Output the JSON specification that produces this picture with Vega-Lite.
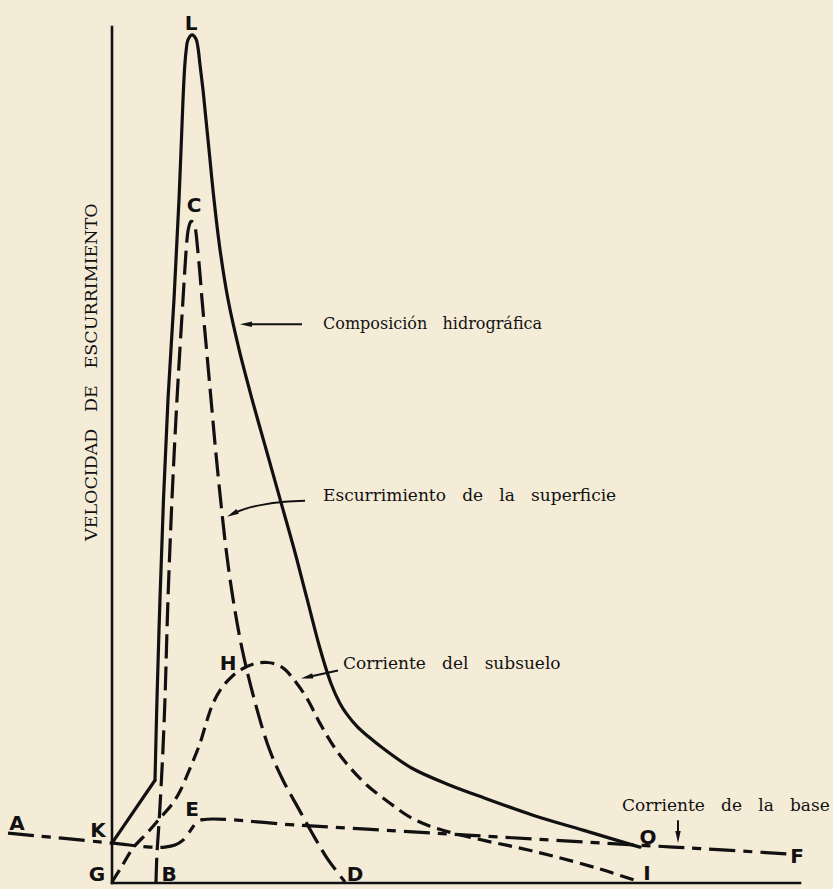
{
  "$schema": "https://vega.github.io/schema/vega-lite/v6.json",
  "width": 833,
  "height": 889,
  "autosize": {"type": "fit", "contains": "padding"},
  "padding": 0,
  "background": "#F5ECD8",
  "config": {"view": {"stroke": null}},
  "datasets": {
    "curves": [
      {"curve": "axisY", "i": 1, "x": 0, "y": 858},
      {"curve": "axisY", "i": 2, "x": 0, "y": 0},
      {"curve": "axisX", "i": 1, "x": 0, "y": 0},
      {"curve": "axisX", "i": 2, "x": 688, "y": 0},
      {"curve": "L1", "i": 1, "x": 0, "y": 40},
      {"curve": "L1", "i": 2, "x": 43, "y": 103},
      {"curve": "L2", "i": 1, "x": 43, "y": 103},
      {"curve": "L2", "i": 2, "x": 45, "y": 185},
      {"curve": "L2", "i": 3, "x": 48, "y": 285},
      {"curve": "L2", "i": 4, "x": 51.5, "y": 385},
      {"curve": "L2", "i": 5, "x": 56, "y": 485},
      {"curve": "L2", "i": 6, "x": 62, "y": 585},
      {"curve": "L2", "i": 7, "x": 67, "y": 685},
      {"curve": "L2", "i": 8, "x": 71, "y": 785},
      {"curve": "L2", "i": 9, "x": 72.5, "y": 815},
      {"curve": "L2", "i": 10, "x": 74, "y": 833},
      {"curve": "L2", "i": 11, "x": 76, "y": 845},
      {"curve": "L2", "i": 12, "x": 80, "y": 850},
      {"curve": "L2", "i": 13, "x": 84, "y": 846},
      {"curve": "L2", "i": 14, "x": 86, "y": 837},
      {"curve": "L2", "i": 15, "x": 88, "y": 820},
      {"curve": "L2", "i": 16, "x": 91, "y": 795},
      {"curve": "L2", "i": 17, "x": 93, "y": 775},
      {"curve": "L2", "i": 18, "x": 97, "y": 735},
      {"curve": "L2", "i": 19, "x": 102, "y": 685},
      {"curve": "L2", "i": 20, "x": 108, "y": 635},
      {"curve": "L2", "i": 21, "x": 116, "y": 585},
      {"curve": "L2", "i": 22, "x": 127, "y": 535},
      {"curve": "L2", "i": 23, "x": 140, "y": 485},
      {"curve": "L2", "i": 24, "x": 154, "y": 435},
      {"curve": "L2", "i": 25, "x": 168, "y": 385},
      {"curve": "L2", "i": 26, "x": 182, "y": 335},
      {"curve": "L2", "i": 27, "x": 195, "y": 285},
      {"curve": "L2", "i": 28, "x": 208, "y": 235},
      {"curve": "L2", "i": 29, "x": 219, "y": 200},
      {"curve": "L2", "i": 30, "x": 228, "y": 180},
      {"curve": "L2", "i": 31, "x": 235, "y": 169},
      {"curve": "L2", "i": 32, "x": 245, "y": 157},
      {"curve": "L2", "i": 33, "x": 256, "y": 147},
      {"curve": "L2", "i": 34, "x": 271, "y": 135},
      {"curve": "L2", "i": 35, "x": 300, "y": 115},
      {"curve": "L2", "i": 36, "x": 338, "y": 98},
      {"curve": "L2", "i": 37, "x": 373, "y": 85},
      {"curve": "L2", "i": 38, "x": 421, "y": 68},
      {"curve": "L2", "i": 39, "x": 471, "y": 53},
      {"curve": "L2", "i": 40, "x": 521, "y": 38},
      {"curve": "L2", "i": 41, "x": 528, "y": 36},
      {"curve": "C", "i": 1, "x": 44, "y": 1},
      {"curve": "C", "i": 2, "x": 45, "y": 30},
      {"curve": "C", "i": 3, "x": 47, "y": 60},
      {"curve": "C", "i": 4, "x": 49, "y": 95},
      {"curve": "C", "i": 5, "x": 51, "y": 135},
      {"curve": "C", "i": 6, "x": 53, "y": 185},
      {"curve": "C", "i": 7, "x": 56, "y": 285},
      {"curve": "C", "i": 8, "x": 60, "y": 385},
      {"curve": "C", "i": 9, "x": 65, "y": 485},
      {"curve": "C", "i": 10, "x": 71, "y": 585},
      {"curve": "C", "i": 11, "x": 73.5, "y": 625},
      {"curve": "C", "i": 12, "x": 75, "y": 645},
      {"curve": "C", "i": 13, "x": 76.5, "y": 656},
      {"curve": "C", "i": 14, "x": 79, "y": 663},
      {"curve": "C", "i": 15, "x": 81.5, "y": 662},
      {"curve": "C", "i": 16, "x": 83.5, "y": 655},
      {"curve": "C", "i": 17, "x": 85.5, "y": 637},
      {"curve": "C", "i": 18, "x": 88, "y": 610},
      {"curve": "C", "i": 19, "x": 90, "y": 585},
      {"curve": "C", "i": 20, "x": 94.5, "y": 535},
      {"curve": "C", "i": 21, "x": 99, "y": 485},
      {"curve": "C", "i": 22, "x": 103.5, "y": 435},
      {"curve": "C", "i": 23, "x": 108.5, "y": 385},
      {"curve": "C", "i": 24, "x": 114, "y": 335},
      {"curve": "C", "i": 25, "x": 121, "y": 285},
      {"curve": "C", "i": 26, "x": 130, "y": 235},
      {"curve": "C", "i": 27, "x": 142, "y": 185},
      {"curve": "C", "i": 28, "x": 157, "y": 135},
      {"curve": "C", "i": 29, "x": 171, "y": 103},
      {"curve": "C", "i": 30, "x": 188, "y": 72},
      {"curve": "C", "i": 31, "x": 203, "y": 45},
      {"curve": "C", "i": 32, "x": 215, "y": 25},
      {"curve": "C", "i": 33, "x": 233, "y": 1},
      {"curve": "H", "i": 1, "x": 0, "y": 1},
      {"curve": "H", "i": 2, "x": 10, "y": 17},
      {"curve": "H", "i": 3, "x": 21, "y": 35},
      {"curve": "H", "i": 4, "x": 35, "y": 50},
      {"curve": "H", "i": 5, "x": 48, "y": 65},
      {"curve": "H", "i": 6, "x": 60, "y": 79},
      {"curve": "H", "i": 7, "x": 68, "y": 92},
      {"curve": "H", "i": 8, "x": 78, "y": 115},
      {"curve": "H", "i": 9, "x": 88, "y": 140},
      {"curve": "H", "i": 10, "x": 95, "y": 163},
      {"curve": "H", "i": 11, "x": 101, "y": 180},
      {"curve": "H", "i": 12, "x": 110, "y": 196},
      {"curve": "H", "i": 13, "x": 120, "y": 207},
      {"curve": "H", "i": 14, "x": 131, "y": 215},
      {"curve": "H", "i": 15, "x": 143, "y": 220},
      {"curve": "H", "i": 16, "x": 155, "y": 221},
      {"curve": "H", "i": 17, "x": 165, "y": 219},
      {"curve": "H", "i": 18, "x": 173, "y": 214},
      {"curve": "H", "i": 19, "x": 181, "y": 205},
      {"curve": "H", "i": 20, "x": 195, "y": 185},
      {"curve": "H", "i": 21, "x": 208, "y": 160},
      {"curve": "H", "i": 22, "x": 223, "y": 135},
      {"curve": "H", "i": 23, "x": 236, "y": 118},
      {"curve": "H", "i": 24, "x": 255, "y": 98},
      {"curve": "H", "i": 25, "x": 278, "y": 80},
      {"curve": "H", "i": 26, "x": 298, "y": 66},
      {"curve": "H", "i": 27, "x": 318, "y": 57},
      {"curve": "H", "i": 28, "x": 341, "y": 50},
      {"curve": "H", "i": 29, "x": 375, "y": 42},
      {"curve": "H", "i": 30, "x": 408, "y": 35},
      {"curve": "H", "i": 31, "x": 441, "y": 27},
      {"curve": "H", "i": 32, "x": 488, "y": 14},
      {"curve": "H", "i": 33, "x": 528, "y": 1},
      {"curve": "base", "i": 1, "x": -104, "y": 50},
      {"curve": "base", "i": 2, "x": 0, "y": 40},
      {"curve": "base", "i": 3, "x": 38, "y": 36},
      {"curve": "base", "i": 4, "x": 53, "y": 36},
      {"curve": "base", "i": 5, "x": 63, "y": 38},
      {"curve": "base", "i": 6, "x": 71, "y": 43},
      {"curve": "base", "i": 7, "x": 78, "y": 52},
      {"curve": "base", "i": 8, "x": 84, "y": 60},
      {"curve": "base", "i": 9, "x": 91, "y": 63.5},
      {"curve": "base", "i": 10, "x": 188, "y": 57.8},
      {"curve": "base", "i": 11, "x": 288, "y": 52},
      {"curve": "base", "i": 12, "x": 388, "y": 46.1},
      {"curve": "base", "i": 13, "x": 526, "y": 38},
      {"curve": "base", "i": 14, "x": 588, "y": 34.5},
      {"curve": "base", "i": 15, "x": 678, "y": 29},
      {"curve": "arrowComp", "i": 1, "x": 190, "y": 560},
      {"curve": "arrowComp", "i": 2, "x": 134, "y": 560},
      {"curve": "arrowEsc", "i": 1, "x": 193, "y": 383},
      {"curve": "arrowEsc", "i": 2, "x": 173, "y": 382},
      {"curve": "arrowEsc", "i": 3, "x": 150, "y": 379},
      {"curve": "arrowEsc", "i": 4, "x": 133, "y": 375},
      {"curve": "arrowEsc", "i": 5, "x": 120.3, "y": 369.7},
      {"curve": "arrowSub", "i": 1, "x": 226, "y": 213},
      {"curve": "arrowSub", "i": 2, "x": 194.9, "y": 206.3},
      {"curve": "arrowBase", "i": 1, "x": 566, "y": 63},
      {"curve": "arrowBase", "i": 2, "x": 566, "y": 46}
    ],
    "heads": [
      {"name": "comp", "x": 134, "y": 560},
      {"name": "esc", "x": 120.3, "y": 369.7},
      {"name": "sub", "x": 194.9, "y": 206.3},
      {"name": "base", "x": 566, "y": 46}
    ],
    "letters": [
      {"label": "L", "x": 79, "y": 861},
      {"label": "C", "x": 82, "y": 679},
      {"label": "H", "x": 116, "y": 220},
      {"label": "E", "x": 80, "y": 73},
      {"label": "K", "x": -14, "y": 52},
      {"label": "A", "x": -95, "y": 59},
      {"label": "G", "x": -15, "y": 8},
      {"label": "B", "x": 57, "y": 8},
      {"label": "D", "x": 243, "y": 8},
      {"label": "O", "x": 536, "y": 45},
      {"label": "I", "x": 535, "y": 9},
      {"label": "F", "x": 685, "y": 26}
    ],
    "notes": [
      {"key": "comp", "text": "Composición\u00a0\u00a0\u00a0hidrográfica", "x": 211, "y": 560},
      {"key": "esc", "text": "Escurrimiento\u00a0\u00a0\u00a0de\u00a0\u00a0\u00a0la\u00a0\u00a0\u00a0superficie", "x": 211, "y": 388},
      {"key": "sub", "text": "Corriente\u00a0\u00a0\u00a0del\u00a0\u00a0\u00a0subsuelo", "x": 231, "y": 220},
      {"key": "base", "text": "Corriente\u00a0\u00a0\u00a0de\u00a0\u00a0\u00a0la\u00a0\u00a0\u00a0base", "x": 510, "y": 77}
    ],
    "title": [
      {"text": "VELOCIDAD\u00a0\u00a0\u00a0DE\u00a0\u00a0\u00a0ESCURRIMIENTO", "x": -20, "y": 512}
    ]
  },
  "encoding": {
    "x": {"field": "x", "type": "quantitative", "scale": {"domain": [-112, 721], "nice": false, "zero": false}, "axis": null},
    "y": {"field": "y", "type": "quantitative", "scale": {"domain": [-4, 885], "nice": false, "zero": false}, "axis": null}
  },
  "layer": [
    {
      "data": {"name": "curves"},
      "transform": [{"filter": "datum.curve === 'axisX' || datum.curve === 'axisY'"}],
      "mark": {"type": "line", "color": "#111111", "strokeWidth": 2.6, "strokeCap": "square"},
      "encoding": {"detail": {"field": "curve"}, "order": {"field": "i", "type": "quantitative"}}
    },
    {
      "data": {"name": "curves"},
      "transform": [{"filter": "datum.curve === 'L1'"}],
      "mark": {"type": "line", "color": "#111111", "strokeWidth": 3.2, "strokeCap": "round"},
      "encoding": {"order": {"field": "i", "type": "quantitative"}}
    },
    {
      "data": {"name": "curves"},
      "transform": [{"filter": "datum.curve === 'L2'"}],
      "mark": {"type": "line", "color": "#111111", "strokeWidth": 3.2, "interpolate": "catmull-rom", "strokeCap": "round"},
      "encoding": {"order": {"field": "i", "type": "quantitative"}}
    },
    {
      "data": {"name": "curves"},
      "transform": [{"filter": "datum.curve === 'C'"}],
      "mark": {"type": "line", "color": "#111111", "strokeWidth": 3.2, "interpolate": "catmull-rom", "strokeDash": [24, 8]},
      "encoding": {"order": {"field": "i", "type": "quantitative"}}
    },
    {
      "data": {"name": "curves"},
      "transform": [{"filter": "datum.curve === 'H'"}],
      "mark": {"type": "line", "color": "#111111", "strokeWidth": 3.2, "interpolate": "catmull-rom", "strokeDash": [14, 7]},
      "encoding": {"order": {"field": "i", "type": "quantitative"}}
    },
    {
      "data": {"name": "curves"},
      "transform": [{"filter": "datum.curve === 'base'"}],
      "mark": {"type": "line", "color": "#111111", "strokeWidth": 3.2, "interpolate": "catmull-rom", "strokeDash": [26, 8, 9, 8]},
      "encoding": {"order": {"field": "i", "type": "quantitative"}}
    },
    {
      "data": {"name": "curves"},
      "transform": [{"filter": "indexof(datum.curve, 'arrow') === 0"}],
      "mark": {"type": "line", "color": "#111111", "strokeWidth": 2, "interpolate": "catmull-rom"},
      "encoding": {"detail": {"field": "curve"}, "order": {"field": "i", "type": "quantitative"}}
    },
    {
      "data": {"name": "heads"},
      "transform": [{"filter": "datum.name === 'comp'"}],
      "mark": {"type": "point", "shape": "M -1 0 L 1 -0.45 L 1 0.45 Z", "size": 144, "filled": true, "color": "#111111", "opacity": 1, "angle": 0}
    },
    {
      "data": {"name": "heads"},
      "transform": [{"filter": "datum.name === 'esc'"}],
      "mark": {"type": "point", "shape": "M -1 0 L 1 -0.45 L 1 0.45 Z", "size": 144, "filled": true, "color": "#111111", "opacity": 1, "angle": -27}
    },
    {
      "data": {"name": "heads"},
      "transform": [{"filter": "datum.name === 'sub'"}],
      "mark": {"type": "point", "shape": "M -1 0 L 1 -0.45 L 1 0.45 Z", "size": 144, "filled": true, "color": "#111111", "opacity": 1, "angle": -12}
    },
    {
      "data": {"name": "heads"},
      "transform": [{"filter": "datum.name === 'base'"}],
      "mark": {"type": "point", "shape": "M -1 0 L 1 -0.45 L 1 0.45 Z", "size": 144, "filled": true, "color": "#111111", "opacity": 1, "angle": -90}
    },
    {
      "data": {"name": "letters"},
      "mark": {"type": "text", "font": "DejaVu Sans", "fontWeight": "bold", "fontSize": 20, "color": "#111111", "align": "center", "baseline": "middle"},
      "encoding": {"text": {"field": "label"}}
    },
    {
      "data": {"name": "notes"},
      "transform": [{"filter": "datum.key !== 'comp'"}],
      "mark": {"type": "text", "font": "DejaVu Serif", "fontSize": 17, "color": "#111111", "align": "left", "baseline": "middle"},
      "encoding": {"text": {"field": "text"}}
    },
    {
      "data": {"name": "notes"},
      "transform": [{"filter": "datum.key === 'comp'"}],
      "mark": {"type": "text", "font": "DejaVu Serif", "fontSize": 16, "color": "#111111", "align": "left", "baseline": "middle"},
      "encoding": {"text": {"field": "text"}}
    },
    {
      "data": {"name": "title"},
      "mark": {"type": "text", "font": "DejaVu Serif", "fontSize": 17.5, "color": "#111111", "align": "center", "baseline": "middle", "angle": 270},
      "encoding": {"text": {"field": "text"}}
    }
  ]
}
